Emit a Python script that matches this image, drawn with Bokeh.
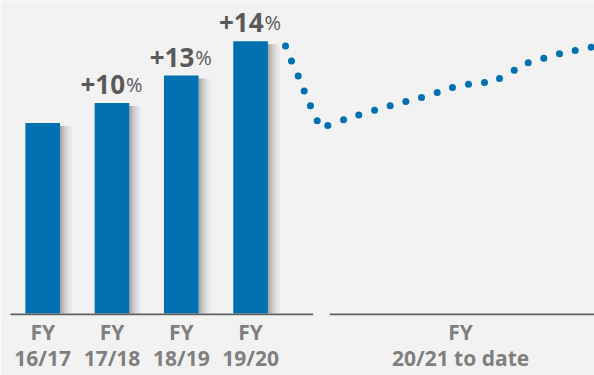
from bokeh.plotting import figure
from bokeh.models import Range1d, FixedTicker
from bokeh.core.properties import value
from bokeh.embed import file_html
from bokeh.resources import INLINE

# ---- data ----
years = ["16/17", "17/18", "18/19", "19/20"]
bar_x = [0, 1, 2, 3]
bar_values = [100, 110.5, 125, 143]
growth_labels = ["", "+10", "+13", "+14"]
current_label = "20/21 to date"
current_x = 6.03

trend_x = [3.504, 3.590, 3.687, 3.773, 3.864, 3.961, 4.114, 4.341, 4.561, 4.789,
           5.014, 5.240, 5.466, 5.693, 5.913, 6.144, 6.375, 6.592, 6.804, 7.006,
           7.231, 7.457, 7.684, 7.915]
trend_y = [140.5, 132.6, 124.8, 116.9, 109.1, 101.2, 98.8, 101.7, 104.2, 106.8,
           109.1, 111.4, 113.5, 116.1, 118.7, 120.4, 121.3, 123.4, 127.7, 131.7,
           134.1, 136.4, 138.2, 139.9]

# ---- layout scales ----
PXX = 69.3   # pixels per x unit
PXY = 1.91   # pixels per y unit
FRAME_H = 316
X0 = -42.2 / PXX
X1 = (594 - 42.2) / PXX
Y1 = 314 / PXY
Y0 = -(FRAME_H - 314) / PXY
SHIFT = 8.5  # svg baseline compensation, px

BLUE = "#0070b0"
BG = "#f2f2f2"
DARK = "#595959"
MID = "#7f7f7f"
FONT = value("Open Sans")

p = figure(width=594, height=375, x_range=Range1d(X0, X1), y_range=Range1d(Y0, Y1),
           output_backend="svg", toolbar_location=None,
           min_border_left=0, min_border_right=0, min_border_top=0,
           min_border_bottom=375 - FRAME_H)
p.background_fill_color = BG
p.border_fill_color = BG
p.outline_line_color = None
p.yaxis.visible = False
p.xgrid.visible = False
p.ygrid.visible = False

ticks = bar_x + [current_x]
overrides = {x: "FY\n" + y for x, y in zip(bar_x, years)}
overrides[current_x] = "FY\n" + current_label
ax = p.xaxis[0]
ax.ticker = FixedTicker(ticks=ticks)
ax.major_label_overrides = overrides
ax.axis_line_color = None
ax.major_tick_line_color = None
ax.minor_tick_line_color = None
ax.major_tick_in = 0
ax.major_tick_out = 0
ax.major_label_text_font = "Open Sans"
ax.major_label_text_font_style = "bold"
ax.major_label_text_font_size = "21px"
ax.major_label_text_color = MID
ax.major_label_text_line_height = 0.95
ax.major_label_standoff = 2

bw = 0.5
# shadows
shadow_alphas = [0.30, 0.22, 0.15, 0.10, 0.06, 0.03]
for i, a in enumerate(shadow_alphas):
    l = [x + bw / 2 + i * 2 / PXX for x in bar_x]
    r = [x + bw / 2 + (i + 1) * 2 / PXX for x in bar_x]
    t = [v - 3 / PXY for v in bar_values]
    p.quad(left=l, right=r, top=t, bottom=[0] * 4, fill_color="black",
           fill_alpha=a, line_color=None)

p.vbar(x=bar_x, width=bw, top=bar_values, bottom=0, fill_color=BLUE, line_color=None)

# baseline segments
p.segment(x0=[-0.465], y0=[-0.5], x1=[3.903], y1=[-0.5],
          line_color="#5f5f5f", line_width=2)
p.segment(x0=[4.143], y0=[-0.5], x1=[X1], y1=[-0.5], line_color="#5f5f5f", line_width=2)

# dotted trend
p.scatter(x=trend_x, y=trend_y, size=7, fill_color=BLUE, line_color=None)

# growth labels
gl_x = [x + 13 / PXX for x in bar_x[1:]]
gl_y = [v + (10 + SHIFT) / PXY for v in bar_values[1:]]
p.text(x=gl_x, y=gl_y, text=growth_labels[1:], text_font=FONT,
       text_font_style="bold", text_font_size=value("26px"), text_color=DARK,
       text_align="right", text_baseline="alphabetic")
p.text(x=[x + 1 / PXX for x in gl_x], y=gl_y, text=["%"] * 3, text_font=FONT,
       text_font_size=value("20px"), text_color=DARK,
       text_align="left", text_baseline="alphabetic")

open("out.html", "w").write(file_html(p, INLINE))
